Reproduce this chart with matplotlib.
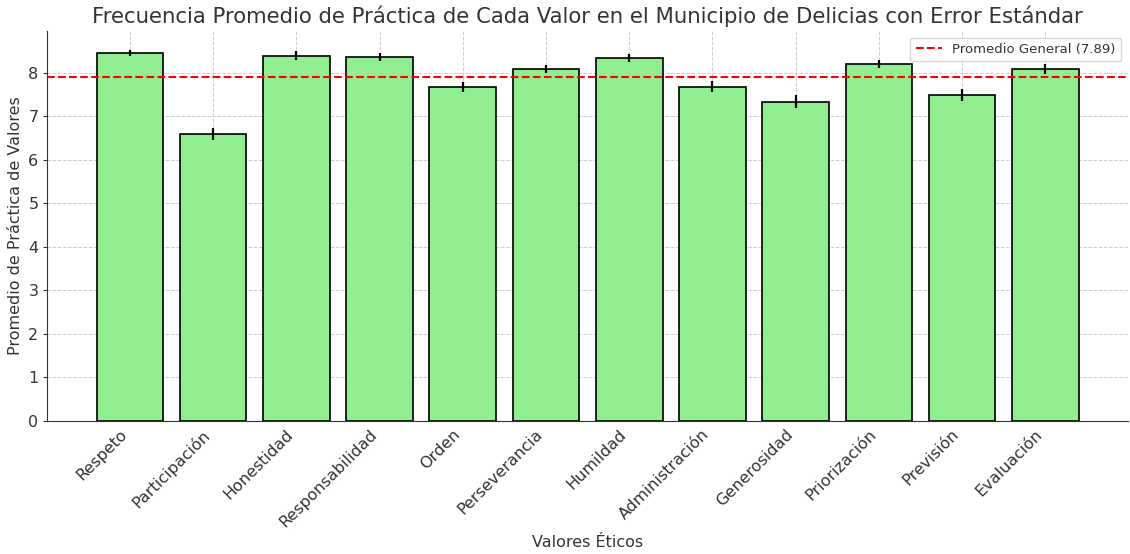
import matplotlib
matplotlib.use("Agg")
from matplotlib import pyplot as plt
import numpy as np

# datos
valores = ["Respeto", "Participación", "Honestidad", "Responsabilidad", "Orden",
           "Perseverancia", "Humildad", "Administración", "Generosidad",
           "Priorización", "Previsión", "Evaluación"]
promedios = [8.46, 6.59, 8.39, 8.36, 7.67, 8.09, 8.34, 7.68, 7.33, 8.20, 7.49, 8.09]
errores = [0.07, 0.14, 0.10, 0.10, 0.12, 0.09, 0.10, 0.12, 0.15, 0.09, 0.14, 0.11]
promedio_general = 7.89

plt.rcParams['text.color'] = '#333333'
plt.rcParams['axes.labelcolor'] = '#333333'
plt.rcParams['xtick.color'] = '#333333'
plt.rcParams['ytick.color'] = '#333333'

fig = plt.figure(figsize=(11.3, 5.54), dpi=100)
ax = fig.add_subplot(111)

x = np.arange(len(valores))
ax.bar(x, promedios, yerr=errores, color='lightgreen', edgecolor='black',
       linewidth=1.2, width=0.8, error_kw=dict(ecolor='black', elinewidth=1.6, capsize=0))
ax.axhline(promedio_general, color='red', linestyle='--', linewidth=1.5,
           label="Promedio General ({:.2f})".format(promedio_general))

ax.set_xticks(x)
ax.set_xticklabels(valores, rotation=45, ha='right', fontsize=11.5)
ax.tick_params(axis='y', labelsize=11.5, length=3)
ax.tick_params(axis='x', length=0, pad=4)

ax.set_xlabel("Valores Éticos", fontsize=11.5)
ax.set_ylabel("Promedio de Práctica de Valores", fontsize=11.5)
ax.set_title("Frecuencia Promedio de Práctica de Cada Valor en el Municipio de Delicias con Error Estándar",
             fontsize=15.3)

ax.grid(True, linestyle='--', color='#cccccc', linewidth=0.7)
ax.set_axisbelow(True)
ax.spines['top'].set_visible(False)
ax.spines['right'].set_visible(False)
ax.spines['left'].set_color('#333333')
ax.spines['bottom'].set_color('#333333')
ax.legend(loc='upper right', fontsize=9.5)

plt.subplots_adjust(left=0.042, right=0.998, bottom=0.24, top=0.944)
plt.savefig("out.png")
